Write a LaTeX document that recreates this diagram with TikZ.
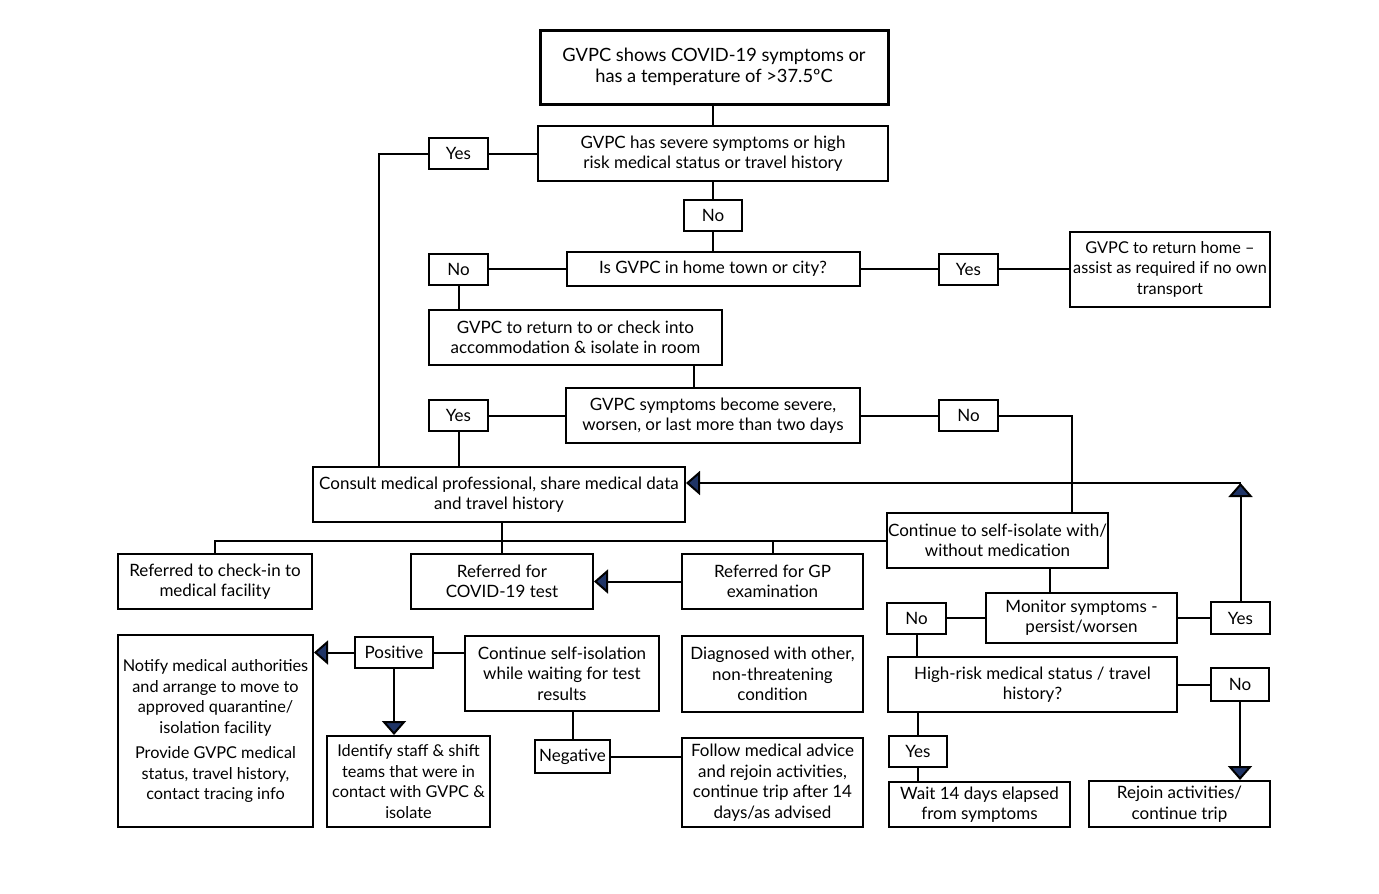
\documentclass[tikz,border=0pt]{standalone}
\usepackage{fontspec}
\setmainfont{Lato}
\usetikzlibrary{arrows.meta}
\definecolor{tipblue}{RGB}{31,52,102}
\begin{document}
\begin{tikzpicture}[x=1pt,y=-1pt,
    box/.style={draw,line width=2pt,align=center,inner sep=1pt,
        font=\fontsize{17}{20.5}\selectfont},
    small/.style={font=\fontsize{16.3}{20.5}\selectfont},
    tip/.style={-{Triangle[width=24pt,length=14pt,fill=tipblue]}},
    every path/.style={line width=2pt}]
    \useasboundingbox (0,0) rectangle (1379,894);
    %% top of the chart
    \node[box,line width=3pt,minimum width=348,minimum height=74,font=\fontsize{18.3}{21}\selectfont] (start) at (714,67) {GVPC shows COVID-19 symptoms or\\has a temperature of >37.5ºC};
    \node[box,minimum width=350,minimum height=55] (severe) at (713,153.5) {GVPC has severe symptoms or high\\risk medical status or travel history};
    \node[box,minimum width=59,minimum height=31] (yes1) at (458.5,153.5) {Yes};
    \node[box,minimum width=58,minimum height=31] (no1) at (713,215.5) {No};
    \node[box,minimum width=293,minimum height=34] (home) at (713,269) {Is GVPC in home town or city?};
    \node[box,minimum width=59,minimum height=31] (no2) at (458.5,269) {No};
    \node[box,minimum width=59,minimum height=31] (yes2) at (968.5,269) {Yes};
    \node[box,small,minimum width=200,minimum height=75] (rethome) at (1170,269) {GVPC to return home –\\assist as required if no own\\transport};
    \node[box,minimum width=293,minimum height=55] (accom) at (575.5,337.5) {GVPC to return to or check into\\accommodation \& isolate in room};
    \node[box,minimum width=294,minimum height=55] (worsen) at (713,415.5) {GVPC symptoms become severe,\\worsen, or last more than two days};
    \node[box,minimum width=59,minimum height=31] (yes3) at (458.5,415.5) {Yes};
    \node[box,minimum width=59,minimum height=31] (no3) at (968.5,415.5) {No};
    \node[box,minimum width=372,minimum height=55] (consult) at (499,494.5) {Consult medical professional, share medical data\\and travel history};
    %% referrals
    \node[box,minimum width=194,minimum height=55] (checkin) at (215,581.5) {Referred to check-in to\\medical facility};
    \node[box,minimum width=182,minimum height=55] (covid) at (502,581.5) {Referred for\\COVID-19 test};
    \node[box,minimum width=181,minimum height=55] (gp) at (772.5,581.5) {Referred for GP\\examination};
    \node[box,minimum width=194,minimum height=75] (selfwait) at (562,673.5) {Continue self-isolation\\while waiting for test\\results};
    \node[box,minimum width=78,minimum height=31] (positive) at (394,652.5) {Positive};
    \node[box,minimum width=75,minimum height=33] (negative) at (572.5,756.5) {Negative};
    \node[box,small,minimum width=195,minimum height=192] (notify) at (215.5,731) {Notify medical authorities\\and arrange to move to\\approved quarantine/\\isolation facility\\[5pt]Provide GVPC medical\\status, travel history,\\contact tracing info};
    \node[box,small,minimum width=163,minimum height=91] (identify) at (408.5,781.5) {Identify staff \& shift\\teams that were in\\contact with GVPC \&\\isolate};
    \node[box,minimum width=181,minimum height=76] (diagnosed) at (772.5,674) {Diagnosed with other,\\non-threatening\\condition};
    \node[box,minimum width=181,minimum height=89] (follow) at (772.5,782.5) {Follow medical advice\\and rejoin activities,\\continue trip after 14\\days/as advised};
    %% self-isolation branch
    \node[box,minimum width=221,minimum height=55] (contiso) at (997.5,540.5) {Continue to self-isolate with/\\without medication};
    \node[box,minimum width=191,minimum height=50] (monitor) at (1081.5,618) {Monitor symptoms -\\persist/worsen};
    \node[box,minimum width=59,minimum height=31] (no4) at (916.5,618) {No};
    \node[box,minimum width=59,minimum height=32] (yes4) at (1240.5,618) {Yes};
    \node[box,minimum width=289,minimum height=55] (highrisk) at (1032.5,684.5) {High-risk medical status / travel\\history?};
    \node[box,minimum width=58,minimum height=33] (no5) at (1240,684.5) {No};
    \node[box,minimum width=58,minimum height=31] (yes5) at (918,751.5) {Yes};
    \node[box,minimum width=181,minimum height=45] (wait) at (979.5,804.5) {Wait 14 days elapsed\\from symptoms};
    \node[box,minimum width=181,minimum height=46] (rejoin) at (1179.5,804) {Rejoin activities/\\continue trip};
    \coordinate (c1) at (379,467);
    \coordinate (loop) at (1240.5,483);
    %% connectors, upper half
    \draw (start.south -| severe.north) -- (severe.north);
    \draw (severe) -- (yes1);
    \draw (yes1.west) -| (c1);
    \draw (severe.south) -- (no1) -- (home.north);
    \draw (home) -- (no2);
    \draw (no2.south) -- (no2.south |- accom.north);
    \draw (home) -- (yes2) -- (rethome);
    \draw ([xshift=-29pt]accom.south east) -- ([xshift=-29pt]accom.south east |- worsen.north);
    \draw (worsen) -- (yes3);
    \draw (yes3.south) -- (yes3.south |- consult.north);
    \draw (worsen) -- (no3);
    \draw (no3.east) -| ([xshift=74.5pt]contiso.north);
    %% back to the doctor
    \draw[tip] (yes4.north) -- (loop);
    \draw[tip] (loop) -- (loop -| consult.east);
    %% bus under the consult box
    \draw (checkin.north) |- (contiso.west);
    \draw (consult.south -| covid.north) -- (covid.north);
    \draw (gp.north) -- (gp.north |- contiso.west);
    \draw[tip] (gp) -- (covid);
    %% test results
    \draw (positive.east) -- (positive.east -| selfwait.west);
    \draw[tip] (positive.west) -- (positive.west -| notify.east);
    \draw[tip] (positive.south) -- (positive.south |- identify.north);
    \draw (negative.north |- selfwait.south) -- (negative.north);
    \draw (negative.east) -- (negative.east -| follow.west);
    %% monitoring
    \draw ([xshift=52.5pt]contiso.south) -- ([xshift=52.5pt]contiso.south |- monitor.north);
    \draw (monitor) -- (no4);
    \draw (monitor) -- (yes4);
    \draw (no4.south) -- (no4.south |- highrisk.north);
    \draw (highrisk) -- (no5);
    \draw[tip] (no5.south) -- (no5.south |- rejoin.north);
    \draw (yes5.north |- highrisk.south) -- (yes5.north);
    \draw (yes5.south) -- (yes5.south |- wait.north);
\end{tikzpicture}
\end{document}
